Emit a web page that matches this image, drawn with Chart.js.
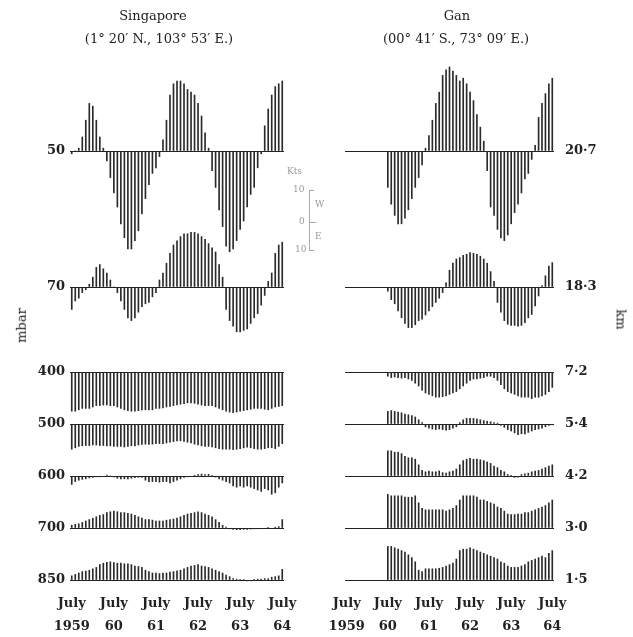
<!DOCTYPE html>
<html>
<head>
<meta charset="utf-8">
<script src="https://cdn.jsdelivr.net/npm/chart.js"></script>
<style>
body { margin: 0; background: #fff; font-family: "DejaVu Serif", serif; color: #222; }
#wrap { position: relative; width: 633px; height: 637px; overflow: hidden; }
.box { position: absolute; top: 0; height: 637px; }
.txt { position: absolute; white-space: nowrap; }
.ttl { position: absolute; width: 240px; text-align: center; font-size: 13px; white-space: nowrap; }
.kt { position: absolute; font-size: 9px; color: #999; }
</style>
</head>
<body>
<div id="wrap">
  <div class="box" style="left:0;width:316px"><canvas id="sing"></canvas></div>
  <div class="box" style="left:316px;width:317px"><canvas id="gan"></canvas></div>

  <div class="ttl" style="left:33px;top:8px">Singapore</div>
  <div class="ttl" style="left:39px;top:31px">(1° 20′ N., 103° 53′ E.)</div>
  <div class="ttl" style="left:337px;top:8px">Gan</div>
  <div class="ttl" style="left:336px;top:31px">(00° 41′ S., 73° 09′ E.)</div>

  <div class="txt" style="left:4px;top:318px;font-size:13px;transform:rotate(-90deg)">mbar</div>
  <div class="txt" style="left:611px;top:312px;font-size:13px;transform:rotate(90deg)">km</div>

  <!-- little wind scale -->
  <div class="kt" style="left:287px;top:166px">Kts</div>
  <div class="kt" style="left:293px;top:184px">10</div>
  <div class="kt" style="left:315px;top:199px">W</div>
  <div class="kt" style="left:299px;top:216px">0</div>
  <div class="kt" style="left:315px;top:231px">E</div>
  <div class="kt" style="left:295px;top:244px">10</div>
  <div style="position:absolute;left:309px;top:190px;width:0;height:60px;border-left:1px solid #aaa"></div>
  <div style="position:absolute;left:309px;top:190px;width:5px;border-top:1px solid #aaa"></div>
  <div style="position:absolute;left:309px;top:222px;width:7px;border-top:1px solid #aaa"></div>
  <div style="position:absolute;left:309px;top:250px;width:5px;border-top:1px solid #aaa"></div>
</div>

<script>
// monthly mean zonal wind (kt), July 1959 .. July 1964, westerly positive
var julyTicks = [['July', '1959'], ['July', '60'], ['July', '61'], ['July', '62'], ['July', '63'], ['July', '64']]

var sinLevels = ['50', '70', '400', '500', '600', '700', '850']
var ganLevels = ['20·7', '18·3', '7·2', '5·4', '4·2', '3·0', '1·5']

var sin50 = [-1, 0, 1, 5, 11, 17, 16, 11, 5, 1,
    -3.5, -9.5, -15, -20, -26, -31, -35, -35, -32, -28.5,
    -22.5, -17, -12, -8, -6, -2, 4, 11, 20, 24,
    25, 25, 24, 22, 21, 20, 17, 12.5, 6.5, 1,
    -7, -13, -21, -27, -34, -36, -35, -32, -28, -25,
    -20, -15.5, -13, -6, -1, 9, 15, 20, 23, 24, 25]
var sin70 = [-8, -5, -4, -2, -1, 1, 3.5, 7, 8, 6.5,
    5, 2.5, 0, -2, -5, -8, -11, -12, -11, -9,
    -7, -6, -5.5, -3.5, -2, 2.5, 5, 8.5, 12, 15,
    16.5, 18, 19, 19, 19.5, 19.5, 19, 18, 17, 15.5,
    14, 12.5, 8, 3.5, -8, -12, -14, -16, -16, -15.5,
    -15, -13, -11, -9.5, -6.5, -3, 2, 5, 12, 15, 16]
var sin400 = [-14, -14, -13.5, -13, -13, -13, -12.5, -12, -12, -11.8,
    -11.8, -12, -12, -12.5, -13, -13.5, -13.8, -14, -14, -13.8,
    -13.5, -13.5, -13.5, -13.5, -13, -13, -12.8, -12.5, -12.3, -12,
    -11.8, -11.5, -11.3, -11, -11, -11.2, -11.5, -11.8, -12, -12,
    -12, -12.5, -13, -13.5, -14, -14.3, -14.5, -14.3, -14, -13.8,
    -13.5, -13.3, -13, -13, -13, -13.3, -13.5, -13, -12.5, -12.3, -12]
var sin500 = [-9, -8.5, -8, -7.8, -7.7, -7.7, -7.5, -7.5, -7.7, -7.7,
    -7.8, -7.8, -8, -8, -8, -8.2, -8, -7.8, -7.8, -7.5,
    -7.3, -7.2, -7.3, -7.2, -7, -7, -7, -6.8, -6.5, -6.3,
    -6, -6, -6.2, -6.5, -6.8, -7.2, -7.5, -7.8, -8, -8,
    -8.2, -8.5, -8.8, -9, -9, -9, -9.2, -9, -8.8, -8.5,
    -8.3, -8.5, -8.8, -9, -9, -8.8, -8.5, -8.5, -8.8, -8, -7]
var sin600 = [-3, -2, -1.5, -1.2, -1, -0.7, -0.5, -0.3, -0.3, -0.2,
    0.3, 0, -0.3, -0.8, -1, -1, -1, -0.8, -0.6, -0.5,
    -0.5, -1.5, -2, -2, -2, -2.2, -2, -2, -2.5, -2,
    -1.5, -1, -0.5, -0.3, -0.2, 0.3, 0.5, 0.7, 0.5, 0.6,
    0.2, -0.4, -1, -1.5, -2, -2.5, -3.5, -4, -3.5, -4,
    -3.5, -4, -4.5, -5, -5.5, -4.5, -5, -6.5, -6, -4, -2.5]
var sin700 = [1, 1.3, 1.5, 2, 2.5, 3, 3.5, 4, 4.5, 4.8,
    5.5, 5.8, 6, 5.8, 5.5, 5.5, 5.2, 5, 4.5, 4,
    3.5, 3, 3, 2.8, 2.5, 2.5, 2.5, 2.8, 3, 3.2,
    3.5, 4, 4.5, 5, 5.2, 5.5, 5.8, 5.5, 5, 4.5,
    4, 3, 2, 1, 0.3, -0.3, -0.5, -0.6, -0.6, -0.5,
    -0.5, -0.4, -0.3, -0.3, -0.2, -0.2, 0.2, -0.2, 0.3, 0.5, 3]
var sin850 = [1.5, 2, 2.5, 3, 3.2, 3.5, 4, 4.5, 5.5, 6,
    6.3, 6.5, 6.2, 6, 6, 5.8, 5.8, 5.5, 5, 4.8,
    4.5, 3.5, 3, 2.5, 2.5, 2.3, 2.5, 2.5, 2.8, 3,
    3.3, 3.5, 4, 4.5, 5, 5.2, 5.5, 5, 4.8, 4.5,
    4, 3.5, 3, 2.5, 1.8, 1.2, 0.5, 0.3, 0.2, 0.2,
    -0.3, -0.3, 0.2, 0.3, 0.3, 0.5, 0.5, 1, 1.2, 1.5, 3.8]

// Gan: no soundings before July 1960
var gan207 = [null, null, null, null, null, null, null, null, null, null,
    null, null, -13, -19, -23, -26, -26, -24, -21, -17,
    -13, -9.5, -5, 1, 5.5, 11, 17, 21, 27, 29,
    30, 28.5, 27, 25, 26, 24, 21, 18, 13, 8.5,
    3.5, -7, -20, -23, -28, -31, -32, -30, -26, -22,
    -19, -15, -10, -8, -3, 2, 12, 17, 20.5, 24, 26]
var gan183 = [null, null, null, null, null, null, null, null, null, null,
    null, null, -1.5, -4.5, -6, -8.5, -11, -13, -14.5, -14.5,
    -13.5, -12, -11.5, -10, -8.5, -7, -5.5, -4, -2, 1.5,
    6, 8.5, 10, 10.5, 11.3, 11.7, 12.3, 12, 11.7, 11,
    10, 8.5, 5.5, 2, -5.5, -9, -12, -13.3, -13.7, -13.7,
    -14, -13.7, -12.7, -11, -9.8, -6.8, -3.2, 0.5, 4, 7.5, 8.7]
var gan72 = [null, null, null, null, null, null, null, null, null, null,
    null, null, -1.5, -2, -1.8, -2, -2.2, -2, -2.5, -3,
    -4, -5, -6.5, -7.5, -8, -8.5, -9, -9, -8.8, -8.5,
    -8, -7.5, -7, -6, -5, -4, -3, -2.5, -2.5, -2.2,
    -2, -1.5, -1.5, -2, -3, -4.5, -6, -7, -7.5, -8,
    -8.5, -9, -9, -9, -9.5, -9, -9, -8.5, -8, -7, -5.5]
var gan54 = [null, null, null, null, null, null, null, null, null, null,
    null, null, 4.5, 4.8, 4.5, 4.3, 4, 3.5, 3.3, 3,
    2.5, 1.5, 0.5, -1, -1.5, -1.8, -2, -1.8, -2, -2.2,
    -2, -1.5, -1, 0.5, 1.5, 2, 2, 2, 1.8, 1.5,
    1.2, 1, 0.8, 0.5, 0.3, -0.5, -1.2, -2, -2.5, -3.2,
    -3.8, -3.5, -3.5, -3, -2.5, -2, -1.8, -1.5, -1, -0.5, -0.3]
var gan42 = [null, null, null, null, null, null, null, null, null, null,
    null, null, 9, 9, 8.5, 8.5, 8, 7, 6.5, 6.5,
    6, 4, 2, 1.5, 1.8, 1.5, 1.5, 1.8, 1.2, 1,
    1.5, 1.8, 2.5, 4, 5.5, 6, 6.3, 6, 6, 5.8,
    5.5, 5, 4.5, 3.5, 3, 2, 1.5, 0.5, 0.2, -0.5,
    -0.4, 0.5, 0.8, 1, 1.5, 1.8, 2, 2.5, 3, 3.5, 4]
var gan30 = [null, null, null, null, null, null, null, null, null, null,
    null, null, 12, 11.5, 11.5, 11.5, 11.5, 11, 11, 11,
    11.5, 9, 7, 6.5, 6.5, 6.5, 6.5, 6.5, 6.5, 6,
    6.5, 7, 8, 10, 11.5, 11.5, 11.5, 11.5, 11, 10,
    10, 9.5, 9, 8.5, 7.5, 7, 6, 5, 4.8, 4.8,
    5, 5, 5.5, 5.5, 6, 6.5, 7, 7.5, 8, 9, 10]
var gan15 = [null, null, null, null, null, null, null, null, null, null,
    null, null, 12, 12, 11.5, 11, 10.5, 10, 9, 8,
    6.5, 3.5, 3, 4, 4, 4, 4, 4.2, 4.5, 5,
    5.5, 6, 7.5, 10.5, 11, 11, 11.5, 11, 10.5, 10,
    9.5, 9, 8.5, 8, 7.5, 6.5, 6, 5, 4.5, 4.5,
    4.5, 5, 5.5, 6.5, 7, 7.5, 8, 8.5, 8, 9.5, 10.5]

// vertical bands for the levels: height (px) and distance from top to the zero line
var bands = [{ h: 160, up: 91 }, { h: 120, up: 67 }, { h: 60, up: 32 }, { h: 50, up: 24 },
    { h: 52, up: 26 }, { h: 53, up: 26 }, { h: 37, up: 25 }]
var pxPerKt = 2.8

var months = []
for (var i = 0; i <= 60; i++) {
    months.push(i)
}

var serif = 'DejaVu Serif'

function makeChart(id, levels, series, side) {
    var scales = {
        x: {
            type: 'category',
            offset: true,
            grid: { display: false },
            border: { display: false },
            ticks: {
                autoSkip: false,
                maxRotation: 0,
                padding: -7,
                color: '#222',
                font: { family: serif, size: 13, weight: 'bold', lineHeight: 1.7 },
                callback: function (v, i) {
                    return i % 12 === 0 ? julyTicks[i / 12] : ''
                }
            },
            afterFit: function (s) { s.height = 45 }
        }
    }
    levels.forEach(function (lab, k) {
        var b = bands[k]
        scales['y' + k] = {
            type: 'linear',
            position: side,
            stack: 'lv',
            stackWeight: b.h,
            weight: side === 'left' ? 10 - k : k + 1,
            min: -(b.h - b.up) / pxPerKt,
            max: b.up / pxPerKt,
            afterBuildTicks: function (s) { s.ticks = [{ value: 0 }] },
            afterFit: function (s) { s.width = side === 'left' ? 70 : 79 },
            grid: { color: '#222', lineWidth: 1, drawTicks: false },
            border: { display: false },
            ticks: {
                padding: side === 'left' ? 5 : 11,
                color: '#222',
                font: { family: serif, size: 13, weight: 'bold' },
                callback: function () { return lab }
            }
        }
    })

    var ds = series.map(function (d, k) {
        return {
            data: d,
            yAxisID: 'y' + k,
            backgroundColor: '#2a2a2a',
            barThickness: 1,
            grouped: false,
            clip: false
        }
    })

    return new Chart(document.getElementById(id), {
        type: 'bar',
        data: { labels: months, datasets: ds },
        options: {
            responsive: true,
            maintainAspectRatio: false,
            animation: false,
            layout: { padding: side === 'left' ? { left: 0, right: 32, top: 60, bottom: 0 } : { left: 29, right: 0, top: 60, bottom: 0 } },
            scales: scales,
            plugins: {
                legend: { display: false },
                tooltip: { enabled: false },
                title: { display: false }
            }
        }
    })
}

makeChart('sing', sinLevels, [sin50, sin70, sin400, sin500, sin600, sin700, sin850], 'left')
makeChart('gan', ganLevels, [gan207, gan183, gan72, gan54, gan42, gan30, gan15], 'right')
</script>
</body>
</html>
